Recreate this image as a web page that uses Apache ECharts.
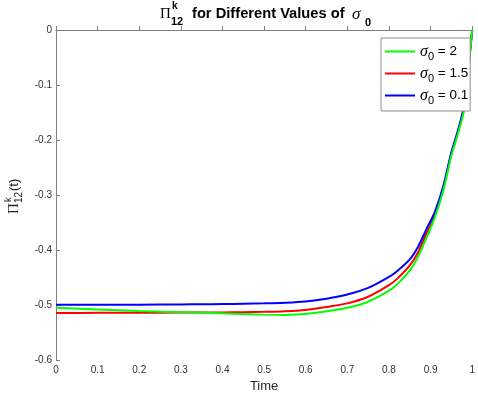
<!DOCTYPE html>
<html>
<head>
<meta charset="utf-8">
<script src="https://cdn.jsdelivr.net/npm/echarts@6/dist/echarts.min.js"></script>
<style>html,body{margin:0;padding:0;background:#fff}#c{width:478px;height:398px}</style>
</head>
<body>
<div id="c"></div>
<script>
var times = [0, 0.1, 0.2, 0.3, 0.35, 0.4, 0.45, 0.5, 0.55, 0.6, 0.65, 0.7, 0.75, 0.8, 0.82, 0.85, 0.87, 0.89, 0.91, 0.93, 0.95, 0.96, 0.97, 0.98, 0.985, 0.99, 0.995, 1.0];
var sigma2 = [-0.505, -0.508, -0.511, -0.513, -0.5138, -0.515, -0.5165, -0.5175, -0.518, -0.5165, -0.5115, -0.505, -0.494, -0.474, -0.462, -0.437, -0.412, -0.378, -0.341, -0.293, -0.228, -0.203, -0.177, -0.148, -0.12, -0.08, -0.04, 0];
var sigma15 = [-0.5145, -0.5143, -0.514, -0.5138, -0.5137, -0.5135, -0.513, -0.5125, -0.5115, -0.509, -0.5035, -0.497, -0.485, -0.464, -0.452, -0.428, -0.404, -0.37, -0.337, -0.289, -0.225, -0.2, -0.174, -0.144, -0.116, -0.077, -0.038, 0];
var sigma01 = [-0.4995, -0.4995, -0.4995, -0.499, -0.4987, -0.4983, -0.4977, -0.497, -0.4958, -0.4935, -0.4885, -0.481, -0.469, -0.449, -0.438, -0.417, -0.394, -0.362, -0.331, -0.285, -0.222, -0.197, -0.171, -0.14, -0.112, -0.074, -0.036, 0];
var seriesNames = ['2', '1.5', '0.1'];
var xTicks = ['0', '0.1', '0.2', '0.3', '0.4', '0.5', '0.6', '0.7', '0.8', '0.9', '1'];
var yTicks = ['-0.6', '-0.5', '-0.4', '-0.3', '-0.2', '-0.1', '0'];

var FONT = '"Liberation Sans", Arial, Helvetica, sans-serif';
var SERIF = '"Liberation Serif", "DejaVu Serif", serif';
function pairs(v) { return times.map(function (t, i) { return [t, v[i]]; }); }

var chart = echarts.init(document.getElementById('c'), null, { renderer: 'canvas' });
var colors = ['#00ff00', '#ff0000', '#0000ff'];
var datasets = [sigma2, sigma15, sigma01];
var series = datasets.map(function (d, i) {
  return {
    name: seriesNames[i],
    type: 'line',
    data: pairs(d),
    smooth: 0.3,
    showSymbol: false,
    symbol: 'none',
    lineStyle: { color: colors[i], width: 2 },
    itemStyle: { color: colors[i] },
    z: i === 0 ? 3 : 2
  };
});

function T(x, y, text, font, fill) {
  return { type: 'text', x: x, y: y, style: { text: text, font: font, fill: fill || '#000', align: 'left', verticalAlign: 'top' } };
}

chart.setOption({
  animation: false,
  backgroundColor: '#ffffff',
  grid: { left: 56, right: 0, top: 30, bottom: 38, containLabel: false },
  legend: {
    orient: 'vertical',
    left: 381,
    top: 38,
    z: 6,
    backgroundColor: '#fff',
    borderColor: '#8c8c8c',
    borderWidth: 1,
    borderRadius: 0,
    padding: [4, 2, 5, 4],
    itemGap: 2,
    itemWidth: 30,
    itemHeight: 2,
    icon: 'rect',
    data: seriesNames,
    formatter: function (n) { return '{s|σ}{sub|0}{t| = ' + n + '}'; },
    textStyle: {
      color: '#000',
      fontFamily: FONT,
      rich: {
        s: { fontFamily: SERIF, fontStyle: 'italic', fontSize: 16, color: '#000', lineHeight: 21 },
        sub: { fontFamily: FONT, fontSize: 11, color: '#000', verticalAlign: 'bottom', padding: [9, 0, 0, 0], lineHeight: 21 },
        t: { fontFamily: FONT, fontSize: 13.5, color: '#000', lineHeight: 21 }
      }
    }
  },
  xAxis: {
    type: 'value',
    min: 0, max: 1, interval: 0.1,
    name: 'Time',
    nameLocation: 'middle',
    nameGap: 17,
    nameTextStyle: { fontFamily: FONT, fontSize: 13, color: '#262626' },
    axisLine: { show: true, lineStyle: { color: '#7f7f7f', width: 1 } },
    axisTick: { show: true, inside: true, length: 4, lineStyle: { color: '#7f7f7f' } },
    axisLabel: { margin: 5, fontFamily: FONT, fontSize: 10, color: '#333',
      formatter: function (v) { return xTicks[Math.round(v * 10)]; } },
    splitLine: { show: false }
  },
  yAxis: {
    type: 'value',
    min: -0.6, max: 0, interval: 0.1,
    axisLine: { show: true, onZero: false, lineStyle: { color: '#7f7f7f', width: 1 } },
    axisTick: { show: true, inside: true, length: 4, lineStyle: { color: '#7f7f7f' } },
    axisLabel: { margin: 4, fontFamily: FONT, fontSize: 10, color: '#333',
      formatter: function (v) { return yTicks[Math.round(v * 10) + 6]; } },
    splitLine: { show: false }
  },
  graphic: [
    {
      type: 'group', x: 0, y: 0,
      children: [
        T(160, 7, 'Π', '15px ' + SERIF),
        T(172, 1, 'k', 'bold 10px ' + FONT),
        T(171, 16, '12', 'bold 11px ' + FONT),
        T(192, 6, 'for Different Values of', 'bold 14.7px ' + FONT),
        T(352, 6, 'σ', 'italic 17px ' + SERIF),
        T(365, 17, '0', 'bold 11px ' + FONT)
      ]
    },
    {
      type: 'group', x: 7, y: 214, rotation: Math.PI / 2,
      children: [
        T(0, 0, 'Π', '15px ' + SERIF, '#262626'),
        T(12, -3, 'k', '9px ' + FONT, '#262626'),
        T(11, 7, '12', '10px ' + FONT, '#262626'),
        T(23, 1, '(t)', '13px ' + FONT, '#262626')
      ]
    }
  ],
  series: series
});
</script>
</body>
</html>
